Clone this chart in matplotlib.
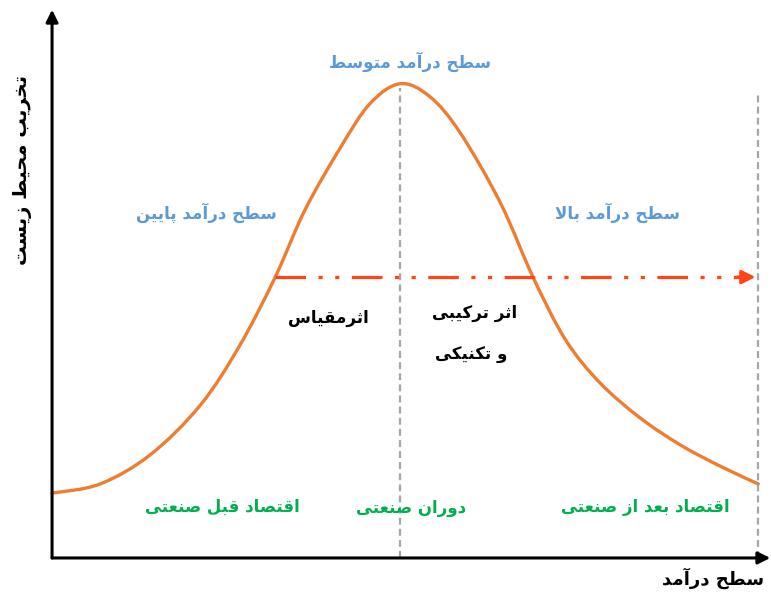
import numpy as np
import matplotlib
matplotlib.use('Agg')
import matplotlib.pyplot as plt
from matplotlib.path import Path
from matplotlib.patches import PathPatch

plt.rcParams['font.family'] = ['DejaVu Sans']
plt.rcParams['lines.scale_dashes'] = False

# curve (income level 0-100, degradation 0-100)
income = [0, 6.8, 13.9, 21.0, 26.6, 31.6, 35.8, 40.8, 45.0, 49.3,
          53.5, 57.8, 63.5, 68.1, 72.7, 77.6, 83.3, 89.0, 94.6, 100]
degradation = [12.0, 13.7, 19.1, 28.3, 39.4, 52.0, 64.4, 75.9, 84.1, 87.8,
               85.4, 78.7, 65.7, 52.0, 40.4, 32.4, 25.9, 20.9, 17.0, 13.7]

peak_x = 49.3
end_x = 100
effect_level = 52.0
effect_start = 31.6

income_labels = ['سطح درآمد پایین', 'سطح درآمد متوسط', 'سطح درآمد بالا']
stage_labels = ['اقتصاد قبل صنعتی', 'دوران صنعتی', 'اقتصاد بعد از صنعتی']
effect_labels = ['اثرمقیاس', 'اثر ترکیبی', 'و تکنیکی']
xlabel = 'سطح درآمد'
ylabel = 'تخریب محیط زیست'

# minimal arabic/persian shaping (no arabic_reshaper here)
FORMS = {
    'ا': ('\uFE8D', '\uFE8E'), 'آ': ('\uFE81', '\uFE82'),
    'د': ('\uFEA9', '\uFEAA'), 'ر': ('\uFEAD', '\uFEAE'),
    'ز': ('\uFEAF', '\uFEB0'), 'و': ('\uFEED', '\uFEEE'),
    'ب': ('\uFE8F', '\uFE90', '\uFE91', '\uFE92'),
    'پ': ('\uFB56', '\uFB57', '\uFB58', '\uFB59'),
    'ت': ('\uFE95', '\uFE96', '\uFE97', '\uFE98'),
    'ث': ('\uFE99', '\uFE9A', '\uFE9B', '\uFE9C'),
    'ح': ('\uFEA1', '\uFEA2', '\uFEA3', '\uFEA4'),
    'خ': ('\uFEA5', '\uFEA6', '\uFEA7', '\uFEA8'),
    'س': ('\uFEB1', '\uFEB2', '\uFEB3', '\uFEB4'),
    'ص': ('\uFEB9', '\uFEBA', '\uFEBB', '\uFEBC'),
    'ط': ('\uFEC1', '\uFEC2', '\uFEC3', '\uFEC4'),
    'ع': ('\uFEC9', '\uFECA', '\uFECB', '\uFECC'),
    'ق': ('\uFED5', '\uFED6', '\uFED7', '\uFED8'),
    'ک': ('\uFB8E', '\uFB8F', '\uFB90', '\uFB91'),
    'ل': ('\uFEDD', '\uFEDE', '\uFEDF', '\uFEE0'),
    'م': ('\uFEE1', '\uFEE2', '\uFEE3', '\uFEE4'),
    'ن': ('\uFEE5', '\uFEE6', '\uFEE7', '\uFEE8'),
    'ی': ('\uFBFC', '\uFBFD', '\uFBFE', '\uFBFF'),
}


def dual(c):
    return c in FORMS and len(FORMS[c]) == 4


def fa(s):
    out = []
    i = 0
    while i < len(s):
        c = s[i]
        prev = s[i-1] if i > 0 else ''
        jp = dual(prev) and c in FORMS
        if c == 'ل' and i + 1 < len(s) and s[i+1] == 'ا':
            out.append('\uFEFC' if jp else '\uFEFB')
            i += 2
            continue
        if c not in FORMS:
            out.append(c)
            i += 1
            continue
        nxt = s[i+1] if i + 1 < len(s) else ''
        jn = dual(c) and nxt in FORMS
        f = FORMS[c]
        if jp and jn:
            out.append(f[3])
        elif jp:
            out.append(f[1])
        elif jn:
            out.append(f[2])
        else:
            out.append(f[0])
        i += 1
    return ''.join(reversed(out))


def smooth_path(xs, ys):
    # bezier segments through the read points (catmull-rom handles)
    p = np.column_stack([xs, ys]).astype(float)
    verts = [p[0]]
    codes = [Path.MOVETO]
    for k in range(len(p) - 1):
        p0 = p[k-1] if k > 0 else p[k]
        p3 = p[k+2] if k + 2 < len(p) else p[k+1]
        c1 = p[k] + (p[k+1] - p0) / 6
        c2 = p[k+1] - (p3 - p[k]) / 6
        verts += [c1, c2, p[k+1]]
        codes += [Path.CURVE4] * 3
    return Path(verts, codes)


fig = plt.figure(figsize=(7.71, 5.94), dpi=100)
ax = fig.add_axes([0, 0, 1, 1])
ax.set_xlim(-7.37, 101.8)
ax.set_ylim(-6.67, 103.3)
ax.axis('off')

orange = '#ED7D31'
red = '#FF4515'
blue = '#5B9BD5'
green = '#00B050'
gray = '#A6A6A6'

# dashed guides
ax.plot([peak_x, peak_x], [0, 87.0], color=gray, lw=1.6, dashes=(5, 3))
ax.plot([end_x, end_x], [0, 85.7], color=gray, lw=1.6, dashes=(5, 3))

ax.add_patch(PathPatch(smooth_path(income, degradation), fill=False,
                       edgecolor=orange, lw=2.4, capstyle='round'))

# scale/technique effect arrow
ax.plot([effect_start, 97.6], [effect_level, effect_level], color=red, lw=2.3,
        dashes=(22, 9, 3, 9, 3, 9))
ax.annotate('', xy=(99.6, effect_level), xytext=(97.0, effect_level),
            arrowprops=dict(arrowstyle='-|>', color=red, lw=2.3,
                            mutation_scale=20, shrinkA=0, shrinkB=0))

# axes with arrows
ax.annotate('', xy=(0, 101.5), xytext=(0, 0),
            arrowprops=dict(arrowstyle='-|>', color='black', lw=2.2,
                            mutation_scale=18, shrinkA=0, shrinkB=0))
ax.annotate('', xy=(101.7, 0), xytext=(0, 0),
            arrowprops=dict(arrowstyle='-|>', color='black', lw=2.2,
                            mutation_scale=18, shrinkA=0, shrinkB=0))

for (x, y), t in zip([(21.8, 63.9), (50.7, 91.9), (80.0, 63.9)], income_labels):
    ax.text(x, y, fa(t), color=blue, fontsize=12, fontweight='bold',
            ha='center', va='center')
for (x, y), t in zip([(24.1, 9.4), (50.8, 9.3), (84.0, 9.4)], stage_labels):
    ax.text(x, y, fa(t), color=green, fontsize=12, fontweight='bold',
            ha='center', va='center')

for (x, y), t in zip([(39.1, 44.4), (59.8, 45.4), (59.4, 37.6)], effect_labels):
    ax.text(x, y, fa(t), color='black', fontsize=12, fontweight='bold',
            ha='center', va='center')

ax.text(93.6, -3.7, fa(xlabel), color='black', fontsize=13, fontweight='bold',
        ha='center', va='center')
ax.text(-4.2, 71.9, fa(ylabel), color='black', fontsize=14, fontweight='bold',
        ha='center', va='center', rotation=90)

fig.savefig('out.png', dpi=100)
